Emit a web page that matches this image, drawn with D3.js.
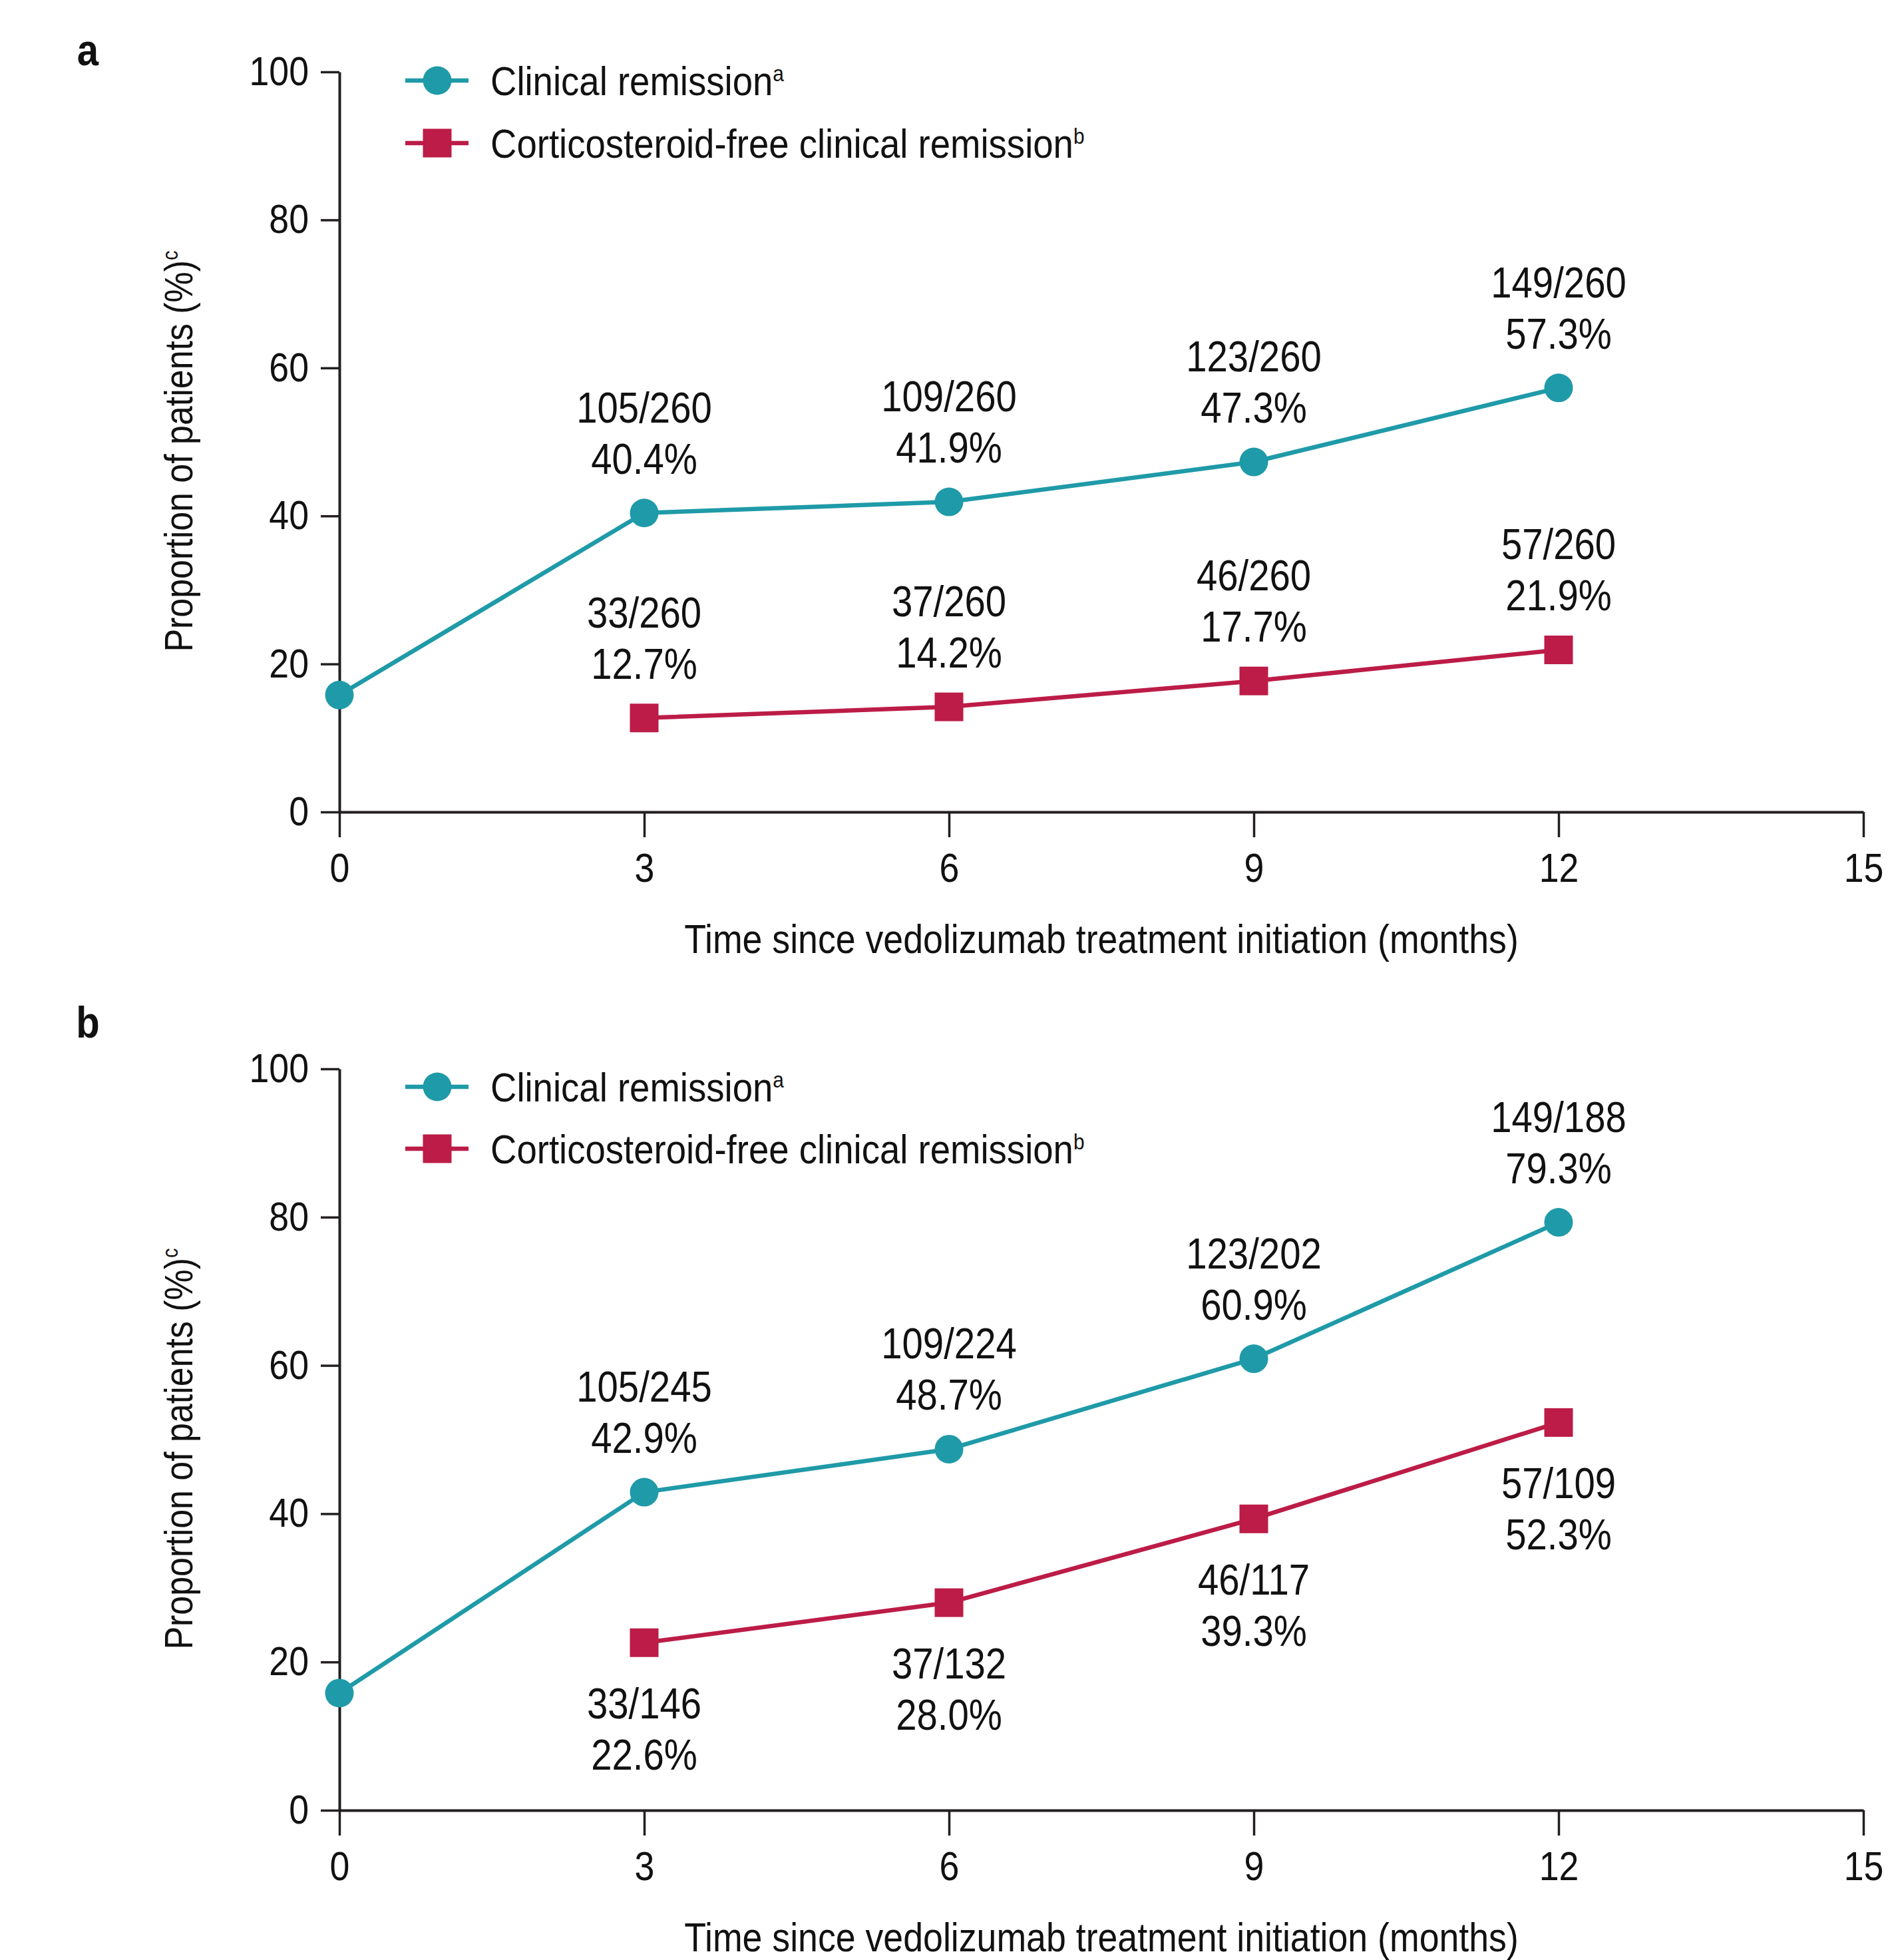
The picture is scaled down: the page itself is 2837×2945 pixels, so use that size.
<!DOCTYPE html>
<html>
<head>
<meta charset="utf-8">
<script src="https://cdn.jsdelivr.net/npm/d3@7"></script>
<style>
body { margin: 0; background: #fff; }
svg { display: block; background: #fff; }
text { font-family: "Liberation Sans", Arial, Helvetica, sans-serif; fill: #111; }
</style>
</head>
<body>
<svg id="chart"></svg>
<script>
// data
const months = [0, 3, 6, 9, 12]
const corticoMonths = [3, 6, 9, 12]
const xTicks = [0, 3, 6, 9, 12, 15]
const yTicks = [0, 20, 40, 60, 80, 100]

const clinicalA = [15.8, 40.4, 41.9, 47.3, 57.3]
const clinicalALabels = [null, "105/260", "109/260", "123/260", "149/260"]
const corticoA = [12.7, 14.2, 17.7, 21.9]
const corticoALabels = ["33/260", "37/260", "46/260", "57/260"]

const clinicalB = [15.8, 42.9, 48.7, 60.9, 79.3]
const clinicalBLabels = [null, "105/245", "109/224", "123/202", "149/188"]
const corticoB = [22.6, 28.0, 39.3, 52.3]
const corticoBLabels = ["33/146", "37/132", "46/117", "57/109"]

const W = 2837, H = 2945
const SX = 0.88 // horizontal squeeze to mimic the condensed face
const teal = "#1f9aa8", crimson = "#bc1c47", axisColor = "#231f20"

const svg = d3.select("#chart").attr("width", W).attr("height", H)

const x = d3.scaleLinear().domain([0, 15]).range([510, 2800])

// text helper, squeezed around its anchor point
function label(g, px, py, str, size, anchor, weight) {
	return g.append("text")
		.attr("transform", `translate(${px},${py}) scale(${SX},1)`)
		.attr("text-anchor", anchor || "start")
		.attr("font-size", size)
		.attr("font-weight", weight || "normal")
		.text(str)
}

function drawPanel(p) {
	const g = svg.append("g")
	const y = d3.scaleLinear().domain([0, 100]).range([p.bottom, p.top])
	const midY = (p.bottom + p.top) / 2

	// panel letter
	label(g, 132, p.letterY, p.letter, 66, "middle", "bold")

	// axes
	const gx = g.append("g")
		.attr("transform", `translate(0,${p.bottom})`)
		.call(d3.axisBottom(x).tickValues(xTicks).tickSize(38).tickPadding(24).tickSizeOuter(0))
	const gy = g.append("g")
		.attr("transform", `translate(${x(0)},0)`)
		.call(d3.axisLeft(y).tickValues(yTicks).tickSize(28).tickPadding(18).tickSizeOuter(0))

	;[gx, gy].forEach(a => {
		a.attr("font-family", null).attr("font-size", 61)
		a.select(".domain").attr("stroke", axisColor).attr("stroke-width", 4)
		a.selectAll(".tick line").attr("stroke", axisColor).attr("stroke-width", 3.5)
		a.selectAll(".tick text").attr("fill", "#111").each(function () {
			const t = d3.select(this)
			const tx = +t.attr("x") || 0
			t.attr("x", tx / SX).attr("transform", `scale(${SX},1)`)
		})
	})

	// axis titles
	label(g, (x.range()[0] + x.range()[1]) / 2, p.bottom + 212,
		"Time since vedolizumab treatment initiation (months)", 61, "middle")

	const yl = g.append("text")
		.attr("transform", `translate(289,${midY + 14}) rotate(-90) scale(${SX},1)`)
		.attr("text-anchor", "middle")
		.attr("font-size", 59)
	yl.append("tspan").text("Proportion of patients (%)")
	yl.append("tspan").attr("font-size", 33).attr("dy", -22).text("c")

	// legend
	const legend = [
		{ name: "Clinical remission", sup: "a", color: teal, shape: "circle" },
		{ name: "Corticosteroid-free clinical remission", sup: "b", color: crimson, shape: "square" }
	]
	legend.forEach((d, i) => {
		const ly = p.legendY[i]
		g.append("line")
			.attr("x1", 609).attr("x2", 704).attr("y1", ly).attr("y2", ly)
			.attr("stroke", d.color).attr("stroke-width", 6.5)
		if (d.shape === "circle") {
			g.append("circle").attr("cx", 657).attr("cy", ly).attr("r", 21.5).attr("fill", d.color)
		} else {
			g.append("rect").attr("x", 657 - 21.5).attr("y", ly - 21.5)
				.attr("width", 43).attr("height", 43).attr("fill", d.color)
		}
		const t = label(g, 737, ly + 22, "", 62, "start")
		t.append("tspan").text(d.name)
		t.append("tspan").attr("font-size", 34).attr("dy", -21).text(d.sup)
	})

	const line = d3.line().x(d => x(d[0])).y(d => y(d[1]))

	const clin = months.map((m, i) => [m, p.clinical[i], p.clinicalLabels[i]])
	const cort = corticoMonths.map((m, i) => [m, p.cortico[i], p.corticoLabels[i]])

	g.append("path").datum(clin).attr("d", line)
		.attr("fill", "none").attr("stroke", teal).attr("stroke-width", 6.5).attr("stroke-linejoin", "round")
	g.append("path").datum(cort).attr("d", line)
		.attr("fill", "none").attr("stroke", crimson).attr("stroke-width", 6.5).attr("stroke-linejoin", "round")

	g.selectAll(".clin-pt").data(clin).join("circle")
		.attr("class", "clin-pt")
		.attr("cx", d => x(d[0])).attr("cy", d => y(d[1])).attr("r", 21.5)
		.attr("fill", teal)
	g.selectAll(".cort-pt").data(cort).join("rect")
		.attr("class", "cort-pt")
		.attr("x", d => x(d[0]) - 21.5).attr("y", d => y(d[1]) - 21.5)
		.attr("width", 43).attr("height", 43)
		.attr("fill", crimson)

	// value labels: count on top line, percentage below it
	function valueLabels(data, below) {
		data.forEach(d => {
			if (!d[2]) return
			const px = x(d[0]), py = y(d[1])
			const first = below ? py + 114 : py - 136
			label(g, px, first, d[2], 64, "middle")
			label(g, px, first + 77, d[1].toFixed(1) + "%", 64, "middle")
		})
	}
	valueLabels(clin, false)
	valueLabels(cort, p.corticoBelow)
}

drawPanel({
	letter: "a", letterY: 98, top: 108, bottom: 1220, legendY: [121, 215],
	clinical: clinicalA, clinicalLabels: clinicalALabels,
	cortico: corticoA, corticoLabels: corticoALabels, corticoBelow: false
})

drawPanel({
	letter: "b", letterY: 1559, top: 1606, bottom: 2720, legendY: [1633, 1726],
	clinical: clinicalB, clinicalLabels: clinicalBLabels,
	cortico: corticoB, corticoLabels: corticoBLabels, corticoBelow: true
})
</script>
</body>
</html>
